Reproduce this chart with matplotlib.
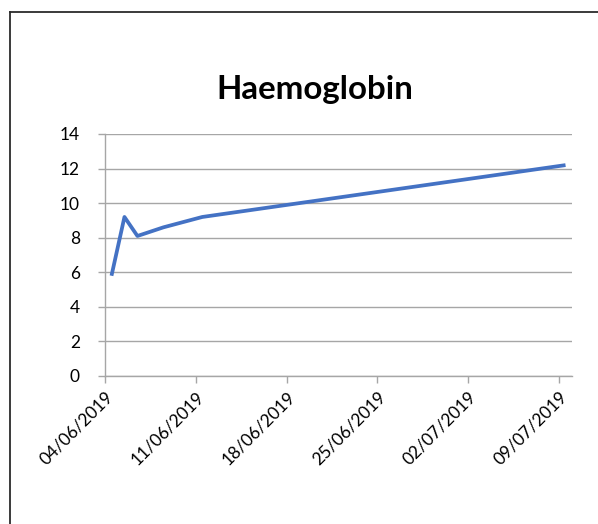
import matplotlib
matplotlib.use("Agg")
import matplotlib.pyplot as plt
import matplotlib.dates as mdates
from matplotlib.lines import Line2D
import numpy as np
import pandas as pd

plt.rcParams["font.family"] = ["Lato", "DejaVu Sans"]

# 측정일 / 헤모글로빈 값
dates = ["2019-06-04", "2019-06-05", "2019-06-06", "2019-06-08",
         "2019-06-11", "2019-07-09"]
hb = [5.8, 9.2, 8.1, 8.6, 9.2, 12.2]
tick_dates = ["2019-06-04", "2019-06-11", "2019-06-18", "2019-06-25",
              "2019-07-02", "2019-07-09"]
y_ticks = [0, 2, 4, 6, 8, 10, 12, 14]

W, H = 598, 524
fig = plt.figure(figsize=(W / 100, H / 100), dpi=100)
ax = fig.add_axes([105 / W, 1 - 376 / H, (572 - 105) / W, (376 - 134) / H])

# Excel 날짜축: 점은 하루의 가운데에 찍힘
x = mdates.date2num(pd.to_datetime(dates)) + 0.5
ax.plot(x, hb, color="#4472C4", lw=2.7, solid_joinstyle="round",
        solid_capstyle="butt", zorder=3)

x0 = mdates.date2num(pd.Timestamp("2019-06-04"))
ax.set_xlim(x0, x0 + 36)
ax.set_ylim(0, 14)

ax.set_yticks(y_ticks)
ax.set_yticklabels([str(v) for v in y_ticks])
ax.set_xticks(mdates.date2num(pd.to_datetime(tick_dates)))
ax.set_xticklabels(pd.to_datetime(tick_dates).strftime("%d/%m/%Y"),
                   rotation=45, ha="right", rotation_mode="anchor")

grid_c = "#a6a6a6"
ax.grid(axis="y", color=grid_c, lw=1.0, zorder=0)
for s in ["top", "right"]:
    ax.spines[s].set_visible(False)
for s in ["left", "bottom"]:
    ax.spines[s].set_color(grid_c)
    ax.spines[s].set_linewidth(1.0)
ax.tick_params(axis="both", direction="out", length=5, width=1.0,
               color=grid_c, labelsize=12.5, labelcolor="black", pad=4)
ax.tick_params(axis="y", pad=13)

fig.text(315 / W, 1 - 90 / H, "Haemoglobin", ha="center", va="center",
         fontsize=23.8, fontweight="bold")

# 바깥 테두리 (왼쪽/위)
bx, by = 9.5 / W, 1 - 11.5 / H
fig.add_artist(Line2D([bx, bx], [0, by], color="#2b2b2b", lw=1.3,
                      transform=fig.transFigure))
fig.add_artist(Line2D([bx, 1], [by, by], color="#2b2b2b", lw=1.3,
                      transform=fig.transFigure))

fig.savefig("out.png", dpi=100)
